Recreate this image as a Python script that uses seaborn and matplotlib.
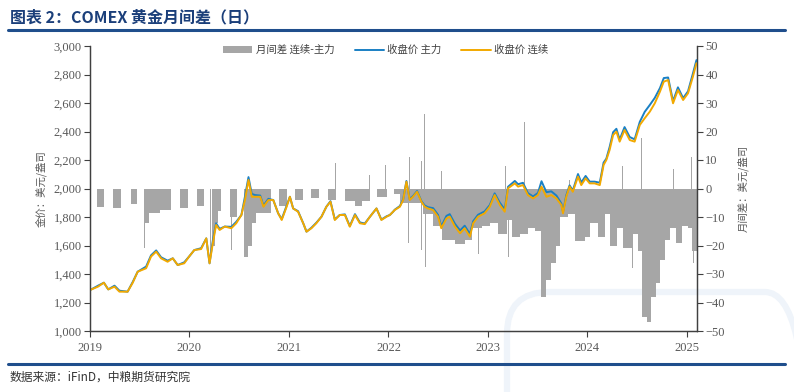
import numpy as np
import pandas as pd
import matplotlib
matplotlib.use("Agg")
import matplotlib.pyplot as plt
import matplotlib.dates as mdates
import seaborn as sns
from matplotlib.patches import Patch, FancyBboxPatch
from matplotlib.lines import Line2D
from matplotlib.transforms import IdentityTransform
from matplotlib.ticker import FuncFormatter, MultipleLocator

# ---------------- data ----------------
price_dates = [
    "2019-01-02", "2019-01-30", "2019-02-21", "2019-03-09", "2019-04-01", "2019-04-19",
    "2019-05-19", "2019-06-07", "2019-06-25", "2019-07-26", "2019-08-13", "2019-09-01",
    "2019-09-19", "2019-10-13", "2019-11-01", "2019-11-19", "2019-12-13", "2020-01-01",
    "2020-01-19", "2020-02-13", "2020-03-03", "2020-03-15", "2020-03-27", "2020-04-08",
    "2020-04-21", "2020-05-10", "2020-06-03", "2020-06-21", "2020-07-10", "2020-07-23",
    "2020-08-05", "2020-08-17", "2020-08-29", "2020-09-17", "2020-09-29", "2020-10-17",
    "2020-11-04", "2020-11-22", "2020-12-05", "2020-12-23", "2021-01-04", "2021-01-16",
    "2021-02-03", "2021-02-22", "2021-03-06", "2021-03-24", "2021-04-11", "2021-04-30",
    "2021-05-18", "2021-06-02", "2021-06-18", "2021-07-06", "2021-07-25", "2021-08-12",
    "2021-08-31", "2021-09-18", "2021-10-06", "2021-10-25", "2021-11-18", "2021-12-06",
    "2021-12-25", "2022-01-06", "2022-01-18", "2022-01-24", "2022-02-12", "2022-02-24",
    "2022-03-08", "2022-03-20", "2022-04-01", "2022-04-16", "2022-05-02", "2022-05-14",
    "2022-05-26", "2022-06-14", "2022-07-02", "2022-07-14", "2022-08-02", "2022-08-14",
    "2022-09-02", "2022-09-21", "2022-10-08", "2022-10-27", "2022-11-08", "2022-11-26",
    "2022-12-20", "2023-01-08", "2023-01-26", "2023-02-14", "2023-03-04", "2023-03-16",
    "2023-04-10", "2023-04-22", "2023-05-10", "2023-05-28", "2023-06-16", "2023-07-04",
    "2023-07-17", "2023-08-04", "2023-08-22", "2023-09-10", "2023-09-28", "2023-10-04",
    "2023-10-16", "2023-10-28", "2023-11-09", "2023-11-28", "2023-12-10", "2023-12-26",
    "2024-01-10", "2024-01-28", "2024-02-16", "2024-03-01", "2024-03-11", "2024-03-23",
    "2024-04-05", "2024-04-17", "2024-04-29", "2024-05-17", "2024-06-05", "2024-06-23",
    "2024-07-12", "2024-07-30", "2024-08-18", "2024-09-05", "2024-09-24", "2024-10-08",
    "2024-10-24", "2024-11-11", "2024-11-29", "2024-12-18", "2025-01-05", "2025-01-23",
    "2025-02-05",
]
price_cont = [
    1288, 1311, 1339, 1292, 1311, 1276,
    1276, 1339, 1416, 1440, 1522, 1557,
    1510, 1486, 1510, 1463, 1475, 1525,
    1568, 1575, 1650, 1475, 1615, 1744,
    1709, 1733, 1721, 1756, 1814, 1919,
    2060, 1942, 1942, 1942, 1872, 1919,
    1919, 1826, 1779, 1872, 1942, 1860,
    1837, 1756, 1697, 1721, 1756, 1802,
    1872, 1907, 1779, 1814, 1814, 1732,
    1814, 1756, 1750, 1802, 1860, 1779,
    1802, 1814, 1837, 1849, 1872, 1919,
    2048, 1919, 1942, 1977, 1907, 1872,
    1860, 1849, 1802, 1721, 1790, 1802,
    1733, 1686, 1721, 1662, 1756, 1802,
    1826, 1872, 1954, 1884, 1837, 2001,
    2036, 2013, 2024, 1954, 1930, 1954,
    2013, 1942, 1954, 1930, 1884, 1826,
    1942, 2013, 1977, 2083, 2024, 2071,
    2036, 2036, 2024, 2165, 2200, 2270,
    2375, 2399, 2329, 2410, 2340, 2329,
    2446, 2493, 2540, 2598, 2680, 2750,
    2761, 2598, 2691, 2621, 2668, 2785,
    2879,
]

# monthly spread (continuous - main); each value holds until the next date
spread_dates = [
    "2019-01-01", "2019-01-26", "2019-02-21", "2019-03-26", "2019-04-24", "2019-05-31",
    "2019-06-22", "2019-07-21", "2019-08-05", "2019-09-15", "2019-10-24", "2019-11-27",
    "2019-12-26", "2020-01-28", "2020-02-23", "2020-03-24", "2020-04-03", "2020-04-14",
    "2020-04-25", "2020-05-28", "2020-06-23", "2020-07-19", "2020-08-03", "2020-08-18",
    "2020-09-02", "2020-10-27", "2020-11-25", "2020-12-25", "2021-01-23", "2021-02-21",
    "2021-03-23", "2021-04-21", "2021-05-24", "2021-06-22", "2021-07-25", "2021-08-31",
    "2021-09-26", "2021-10-25", "2021-11-19", "2021-12-26", "2022-01-21", "2022-02-12",
    "2022-05-07", "2022-06-13", "2022-07-16", "2022-09-02", "2022-10-08", "2022-11-03",
    "2022-12-09", "2023-01-08", "2023-02-06", "2023-03-11", "2023-03-30", "2023-04-28",
    "2023-05-27", "2023-06-22", "2023-07-14", "2023-08-01", "2023-08-20", "2023-09-07",
    "2023-09-22", "2023-10-21", "2023-11-16", "2023-12-23", "2024-01-10", "2024-02-08",
    "2024-03-05", "2024-03-23", "2024-04-18", "2024-05-10", "2024-06-12", "2024-07-04",
    "2024-07-19", "2024-08-07", "2024-08-21", "2024-09-09", "2024-09-24", "2024-10-12",
    "2024-10-30", "2024-11-21", "2024-12-13", "2025-01-04", "2025-01-19",
]
spread_vals = [
    0, -6.5, 0, -7, 0, -5.5,
    0, -12, -8.5, -7.5, 0, -7,
    0, -6, 0, -20, -12, -8,
    0, -10, 0, -24, -20, -12,
    -8.5, 0, -6, 0, -4, 0,
    -3.5, 0, -4, 0, -4.5, -6,
    -4.5, 0, -3, 0, -2, -5,
    -9, -13, -18, -19.5, -18, -14,
    -13, -12, -16, -11, -17, -16,
    -14, -15, -38, -32, -26, -20,
    -10, -9, -18.5, -17, -12, -17,
    -9, -20, -14, -21, -16, -22,
    -45, -47, -38, -33, -25, -18,
    -14, -19, -13, -14, -22,
]
spread_end = "2025-02-06"

# single-day spikes of the spread
spike_dates = [
    "2019-07-21", "2019-09-26", "2020-03-17", "2020-06-05", "2020-07-27", "2022-03-17",
    "2022-05-02", "2022-05-17", "2022-11-29", "2023-03-19", "2023-06-05", "2024-06-15",
    "2024-10-20", "2025-01-25",
    "2020-04-04", "2021-06-21", "2021-10-22", "2021-12-20", "2022-03-18", "2022-05-03",
    "2022-05-12", "2022-07-14", "2022-10-20", "2023-01-05", "2023-03-06", "2023-05-16",
    "2023-10-28", "2024-05-09", "2024-07-19", "2024-11-12", "2025-01-17",
]
spike_vals = [
    -21, -14.5, -24, -21.5, -26, -19,
    -21.6, -27.5, -23, -24, -22, -28,
    -27, -26,
    1.5, 8.8, 4.9, 8.4, 11, 9.6,
    26, 6, 3, 11.7, 7.8, 23.5,
    3, 8, 17.7, 7, 11,
]

title = "图表 2：COMEX 黄金月间差（日）"
source = "数据来源：iFinD，中粮期货研究院"
legend_labels = ["月间差 连续-主力", "收盘价 主力", "收盘价 连续"]
left_label = "金价：美元/盎司"
right_label = "月间差：美元/盎司"

# ---------------- styling ----------------
sns.set_theme(style="white")
plt.rcParams["font.family"] = ["Noto Sans CJK SC", "DejaVu Sans"]

BAR = "#A6A6A6"
BLUE = "#1A80C4"
ORANGE = "#F2A900"
NAVY = "#1B3F7A"
TXT = "#595959"
SPINE = "#404040"
NUMFONT = "Liberation Serif"

W, H = 794, 392
fig = plt.figure(figsize=(W / 100, H / 100), dpi=100, facecolor="white")

# faint watermark shape behind everything
wm = FancyBboxPatch((507, -120), 300, 220, boxstyle="round,pad=0,rounding_size=42",
                    transform=IdentityTransform(), fill=False, ec="#EFF4FA", lw=4.5,
                    zorder=-5)
fig.add_artist(wm)

L, R, T, B = 90, 697, 46, 331
ax = fig.add_axes([L / W, (H - B) / H, (R - L) / W, (B - T) / H])
ax.set_facecolor("none")

# spread bars (right axis) on the base axes so they sit behind the lines
sd = mdates.date2num(pd.to_datetime(spread_dates + [spread_end]))
widths = np.diff(sd)
ax.bar(sd[:-1], spread_vals, width=widths, align="edge", color=BAR, linewidth=0, zorder=1)
spk = mdates.date2num(pd.to_datetime(spike_dates))
ax.bar(spk, spike_vals, width=3.0, align="center", color=BAR, linewidth=0, zorder=1)
ax.set_ylim(-50, 50)

# price lines (left axis)
ax2 = ax.twinx()
ax2.set_facecolor("none")
pdts = pd.to_datetime(price_dates)
pn = mdates.date2num(pdts)
cont = np.array(price_cont, dtype=float)
idx = np.clip(np.searchsorted(sd[:-1], pn, side="right") - 1, 0, len(spread_vals) - 1)
main = cont - np.array(spread_vals, dtype=float)[idx]
df = pd.DataFrame({"date": pdts, "main": main, "cont": cont})
sns.lineplot(data=df, x="date", y="main", ax=ax2, color=BLUE, linewidth=1.4)
sns.lineplot(data=df, x="date", y="cont", ax=ax2, color=ORANGE, linewidth=1.4)
ax2.set_ylim(1000, 3000)
ax2.yaxis.set_major_locator(MultipleLocator(200))
ax2.yaxis.set_major_formatter(FuncFormatter(lambda v, p: f"{int(round(v)):,}"))

ax.set_xlim(mdates.date2num(pd.Timestamp("2019-01-01")), mdates.date2num(pd.Timestamp("2025-02-07")))
ax.xaxis.set_major_locator(mdates.YearLocator())
ax.xaxis.set_major_formatter(mdates.DateFormatter("%Y"))
ax.yaxis.set_major_locator(MultipleLocator(10))

# swap sides: spread axis on the right, price axis on the left
ax.yaxis.tick_right()
ax.yaxis.set_label_position("right")
ax2.yaxis.tick_left()
ax2.yaxis.set_label_position("left")

for a in (ax, ax2):
    a.spines["top"].set_visible(False)
    for s in ("left", "right", "bottom"):
        a.spines[s].set_color(SPINE)
        a.spines[s].set_linewidth(0.9)
    a.grid(False)
    a.set_xlabel("")

ax.tick_params(axis="y", which="both", right=True, left=False, labelright=True, labelleft=False,
               direction="out", length=4, width=0.8, color=SPINE, labelsize=9,
               labelcolor=TXT, labelfontfamily=NUMFONT, pad=2)
ax2.tick_params(axis="y", which="both", left=True, right=False, labelleft=True, labelright=False,
                direction="out", length=4, width=0.8, color=SPINE, labelsize=9,
                labelcolor=TXT, labelfontfamily=NUMFONT, pad=2)
ax.tick_params(axis="x", which="both", bottom=True, direction="out", length=4, width=0.8,
               color=SPINE, labelsize=9, labelcolor=TXT, labelfontfamily=NUMFONT, pad=4)
ax2.tick_params(axis="x", bottom=False, labelbottom=False)

ax.set_ylabel(right_label, fontsize=7.5, color=TXT, labelpad=9, rotation=90)
ax2.set_ylabel(left_label, fontsize=7.5, color=TXT, labelpad=5)

# legend
handles = [Patch(facecolor=BAR, edgecolor="none"),
           Line2D([0], [0], color=BLUE, lw=1.4),
           Line2D([0], [0], color=ORANGE, lw=1.4)]
fig.legend(handles, legend_labels, loc="center", bbox_to_anchor=(0.486, 1 - 50 / H),
           ncol=3, frameon=False, fontsize=7.5, handlelength=2.8, handleheight=0.6,
           columnspacing=1.9, handletextpad=0.35, labelcolor="#404040")

# title, rules and source
fig.text(10 / W, 1 - 17 / H, title, fontsize=11.5, fontweight="bold", color=NAVY,
         va="center", ha="left")
fig.add_artist(Line2D([8 / W, 785 / W], [1 - 30 / H] * 2, color="#1F4E8C", lw=2.2,
                      transform=fig.transFigure))
fig.add_artist(Line2D([8 / W, 785 / W], [1 - 364 / H] * 2, color="#1F4E8C", lw=2.2,
                      transform=fig.transFigure))
fig.text(10 / W, 1 - 377 / H, source, fontsize=8.5, color="#333333", va="center",
         ha="left", style="italic")

fig.savefig("out.png", dpi=100, facecolor="white")
